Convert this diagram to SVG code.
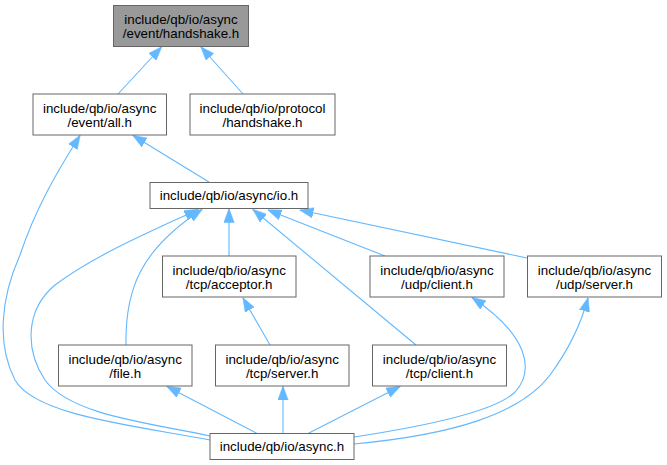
<svg xmlns="http://www.w3.org/2000/svg" width="667" height="465" viewBox="0 0 667 465">
<defs>
<style>
.node rect{fill:#ffffff;stroke:#666666;stroke-width:1}
.node.root rect{fill:#999999}
.node text{font-family:"Liberation Sans",Arial,Helvetica,sans-serif;font-size:13.33px;fill:#000000;text-anchor:middle}
.edges path{fill:none;stroke:#63b8ff;stroke-width:1.1;marker-end:url(#ah)}
</style>
<marker id="ah" viewBox="0 0 14 11" refX="13.5" refY="5.5" markerWidth="14" markerHeight="11" markerUnits="userSpaceOnUse" orient="auto">
<path d="M0,0.3 L14,5.5 L0,10.7 z" fill="#63b8ff" stroke="#63b8ff" stroke-width="0.5"/>
</marker>
</defs>
<rect width="667" height="465" fill="#ffffff"/>
<g id="edges" class="edges">
<path d="M118,94 L161.5,47"/>
<path d="M243,94 L201,47"/>
<path d="M209,182 L133,135.5"/>
<path d="M210,440 C130,425 35,415 15,380 C-3,345 0,300 20,255 C35,210 55,175 80,135.5"/>
<path d="M210,436 C150,423 70,415 45,380 C25,350 25,310 55,285 C95,255 150,232 198,209.5"/>
<path d="M126,345 C125,290 140,250 202,209.5"/>
<path d="M229,256 L229,209"/>
<path d="M416,345 L253,209.5"/>
<path d="M385,256 L268,210"/>
<path d="M527,258 L300,210"/>
<path d="M354,437 C420,427 495,412 515,392 C535,370 528,335 472,297.5"/>
<path d="M354,444 C450,435 520,415 550,375 C570,348 582,320 588,298"/>
<path d="M258,434 L167,386.5"/>
<path d="M283,434 L283,386.5"/>
<path d="M307,434 L400,386.5"/>
<path d="M270,345 L243,298"/>
</g>
<g id="node-event-handshake" class="node root">
<rect x="113.5" y="5.5" width="135" height="41"/>
<text x="181" y="23.5">include/qb/io/async</text>
<text x="181" y="38">/event/handshake.h</text>
</g>
<g id="node-event-all" class="node">
<rect x="33" y="94" width="133.5" height="41"/>
<text x="99.7" y="112.5">include/qb/io/async</text>
<text x="99.7" y="127">/event/all.h</text>
</g>
<g id="node-protocol-handshake" class="node">
<rect x="190" y="94" width="145" height="41"/>
<text x="262.5" y="112.5">include/qb/io/protocol</text>
<text x="262.5" y="127">/handshake.h</text>
</g>
<g id="node-io" class="node">
<rect x="150" y="182.5" width="158" height="26"/>
<text x="229" y="200">include/qb/io/async/io.h</text>
</g>
<g id="node-tcp-acceptor" class="node">
<rect x="162.5" y="256" width="133.5" height="41"/>
<text x="229.2" y="274.5">include/qb/io/async</text>
<text x="229.2" y="289">/tcp/acceptor.h</text>
</g>
<g id="node-udp-client" class="node">
<rect x="370" y="256" width="134" height="41"/>
<text x="437" y="274.5">include/qb/io/async</text>
<text x="437" y="289">/udp/client.h</text>
</g>
<g id="node-udp-server" class="node">
<rect x="527.5" y="256" width="134" height="41"/>
<text x="594.5" y="274.5">include/qb/io/async</text>
<text x="594.5" y="289">/udp/server.h</text>
</g>
<g id="node-file" class="node">
<rect x="58.5" y="345" width="133.5" height="41"/>
<text x="125.2" y="363.5">include/qb/io/async</text>
<text x="125.2" y="378">/file.h</text>
</g>
<g id="node-tcp-server" class="node">
<rect x="215.5" y="345" width="133.5" height="41"/>
<text x="282.2" y="363.5">include/qb/io/async</text>
<text x="282.2" y="378">/tcp/server.h</text>
</g>
<g id="node-tcp-client" class="node">
<rect x="372.5" y="345" width="134" height="41"/>
<text x="439.5" y="363.5">include/qb/io/async</text>
<text x="439.5" y="378">/tcp/client.h</text>
</g>
<g id="node-async" class="node">
<rect x="210" y="433.5" width="144" height="26"/>
<text x="282" y="451">include/qb/io/async.h</text>
</g>
</svg>
